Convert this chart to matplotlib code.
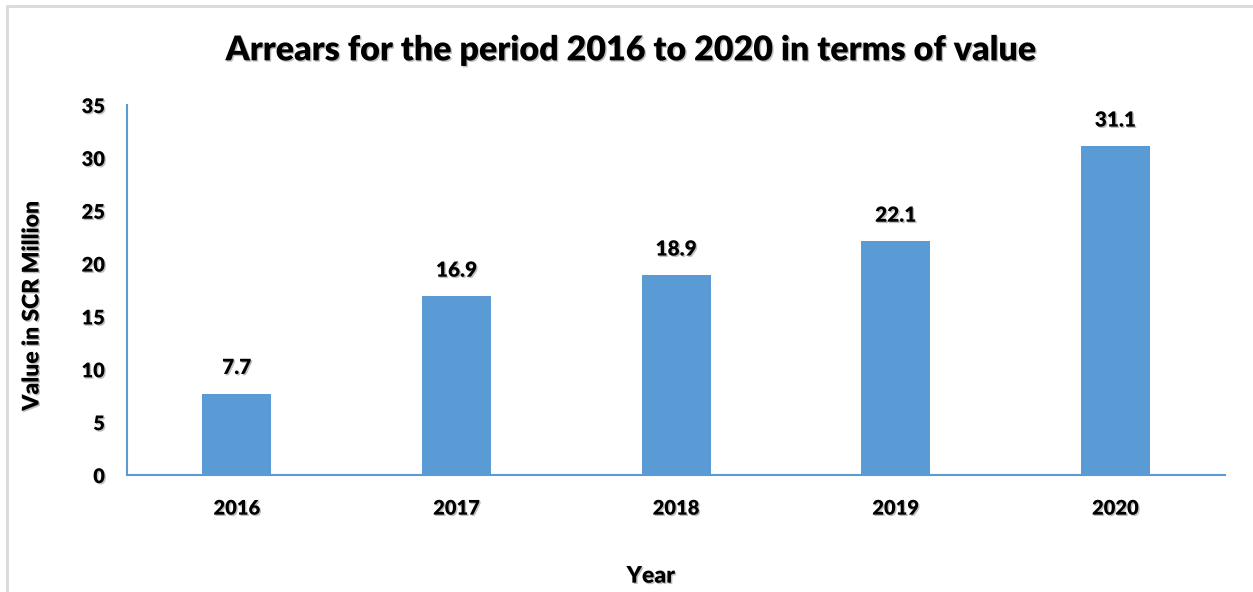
import matplotlib.pyplot as plt
import matplotlib.patheffects as pe
from matplotlib.patches import Rectangle

years = ['2016', '2017', '2018', '2019', '2020']
values = [7.7, 16.9, 18.9, 22.1, 31.1]

plt.rcParams['font.family'] = ['Lato', 'DejaVu Sans']
plt.rcParams['font.weight'] = 'bold'

shadow = [pe.withSimplePatchShadow(offset=(1, -1), shadow_rgbFace='black', alpha=0.25)]
W = 'heavy'

fig = plt.figure(figsize=(12.53, 5.92), dpi=100)
ax = fig.add_axes([0.1014, 0.1976, 0.8763, 0.625])

# outer chart frame
fig.patches.append(Rectangle((7 / 1253, -0.01), 1.1, 1 - 6 / 592 + 0.01, transform=fig.transFigure,
                             fill=False, edgecolor='#d9d9d9', linewidth=2))

x = range(len(years))
bars = ax.bar(x, values, width=0.314, color='#5b9bd5')
ax.set_xlim(-0.5, len(years) - 0.5)
ax.set_ylim(0, 35)
ax.set_yticks(range(0, 36, 5))
ax.set_xticks(list(x))
ax.set_xticklabels(years)

for s in ['top', 'right']:
    ax.spines[s].set_visible(False)
for s in ['left', 'bottom']:
    ax.spines[s].set_color('#5b9bd5')
    ax.spines[s].set_linewidth(1.5)

ax.tick_params(axis='both', length=0, labelsize=14.5)
ax.tick_params(axis='y', pad=16)
ax.tick_params(axis='x', pad=17)
for lab in ax.get_xticklabels() + ax.get_yticklabels():
    lab.set_fontweight(W)
    lab.set_path_effects(shadow)

for xi, v in zip(x, values):
    ax.annotate(f'{v}', (xi, v), xytext=(0, 12), textcoords='offset points',
                ha='center', va='bottom', fontsize=15, fontweight=W, path_effects=shadow)

ax.set_ylabel('Value in SCR Million', fontsize=16.5, fontweight=W, path_effects=shadow)
ax.yaxis.set_label_coords(-0.077, 0.457)
ax.set_xlabel('Year', fontsize=16.5, fontweight=W, path_effects=shadow)
ax.xaxis.set_label_coords(0.477, -0.245)
fig.text(0.503, 0.915, 'Arrears for the period 2016 to 2020 in terms of value', ha='center', va='center',
         fontsize=24.5, fontweight=W, path_effects=shadow)

fig.savefig('out.png', dpi=100)
